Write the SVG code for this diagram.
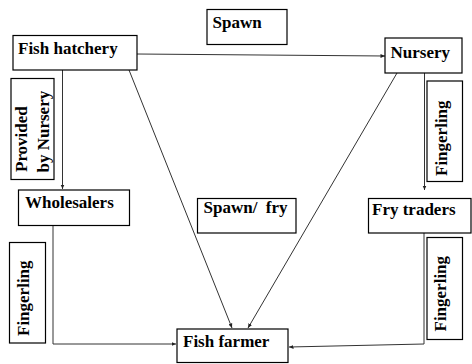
<svg xmlns="http://www.w3.org/2000/svg" width="472" height="364" viewBox="0 0 472 364">
<style>
.box{fill:#fff;stroke:#000;stroke-width:1.2}
.lbl{font-family:'Liberation Serif','DejaVu Serif',serif;font-weight:700;font-size:17px;fill:#000}
.con{fill:none;stroke:#333;stroke-width:1}
</style>
<defs>
<marker id="ah" markerUnits="userSpaceOnUse" markerWidth="5" markerHeight="5" refX="4.5" refY="2.5" orient="auto">
<path d="M0,0.5 L4.5,2.5 L0,4.5 z" fill="#222"/>
</marker>
</defs>
<rect width="472" height="364" fill="#fff"/>
<g id="connectors">
<path class="con" d="M137,54 L385,56" marker-end="url(#ah)"/>
<path class="con" d="M62.5,70 L62.5,189" marker-end="url(#ah)"/>
<path class="con" d="M129,70 L232,328" marker-end="url(#ah)"/>
<path class="con" d="M397,73 L248,328" marker-end="url(#ah)"/>
<path class="con" d="M424.5,73 L424.5,190" marker-end="url(#ah)"/>
<path class="con" d="M53,226 L53,344 L176,344" marker-end="url(#ah)"/>
<path class="con" d="M424,233 L424,344 L289,347" marker-end="url(#ah)"/>
</g>
<g id="fish-hatchery">
<rect class="box" x="13" y="35.5" width="124" height="34.5"/>
<text class="lbl" font-family="Liberation Serif, serif" x="18" y="54">Fish hatchery</text>
</g>
<g id="spawn">
<rect class="box" x="207" y="9.5" width="80" height="35"/>
<text class="lbl" font-family="Liberation Serif, serif" x="212.5" y="27.5">Spawn</text>
</g>
<g id="nursery">
<rect class="box" x="385" y="38" width="77" height="35"/>
<text class="lbl" font-family="Liberation Serif, serif" x="390.5" y="57.5">Nursery</text>
</g>
<g id="provided-by-nursery">
<rect class="box" x="11" y="78.5" width="43" height="101"/>
<text class="lbl" font-family="Liberation Serif, serif" transform="translate(27,172) rotate(-90)" x="0" y="0">Provided</text>
<text class="lbl" font-family="Liberation Serif, serif" transform="translate(49,172.5) rotate(-90)" x="0" y="0">by Nursery</text>
</g>
<g id="wholesalers">
<rect class="box" x="18.5" y="190" width="111" height="35.5"/>
<text class="lbl" font-family="Liberation Serif, serif" x="25" y="208">Wholesalers</text>
</g>
<g id="fingerling-nursery">
<rect class="box" x="427" y="81" width="35.5" height="100.5"/>
<text class="lbl" font-family="Liberation Serif, serif" transform="translate(447,176) rotate(-90)" x="0" y="0">Fingerling</text>
</g>
<g id="spawn-fry">
<rect class="box" x="197.5" y="198.5" width="98.5" height="34.5"/>
<text class="lbl" font-family="Liberation Serif, serif" x="203.5" y="213" xml:space="preserve">Spawn/  fry</text>
</g>
<g id="fry-traders">
<rect class="box" x="368.5" y="198.5" width="102.5" height="34.5"/>
<text class="lbl" font-family="Liberation Serif, serif" x="372" y="215">Fry traders</text>
</g>
<g id="fingerling-wholesalers">
<rect class="box" x="9.5" y="242.5" width="36" height="100.5"/>
<text class="lbl" font-family="Liberation Serif, serif" transform="translate(28.5,336) rotate(-90)" x="0" y="0">Fingerling</text>
</g>
<g id="fingerling-fry-traders">
<rect class="box" x="427" y="237.5" width="35.5" height="102"/>
<text class="lbl" font-family="Liberation Serif, serif" transform="translate(446,331.5) rotate(-90)" x="0" y="0">Fingerling</text>
</g>
<g id="fish-farmer">
<rect class="box" x="177" y="329" width="111" height="33.5"/>
<text class="lbl" font-family="Liberation Serif, serif" x="183" y="347">Fish farmer</text>
</g>
</svg>
